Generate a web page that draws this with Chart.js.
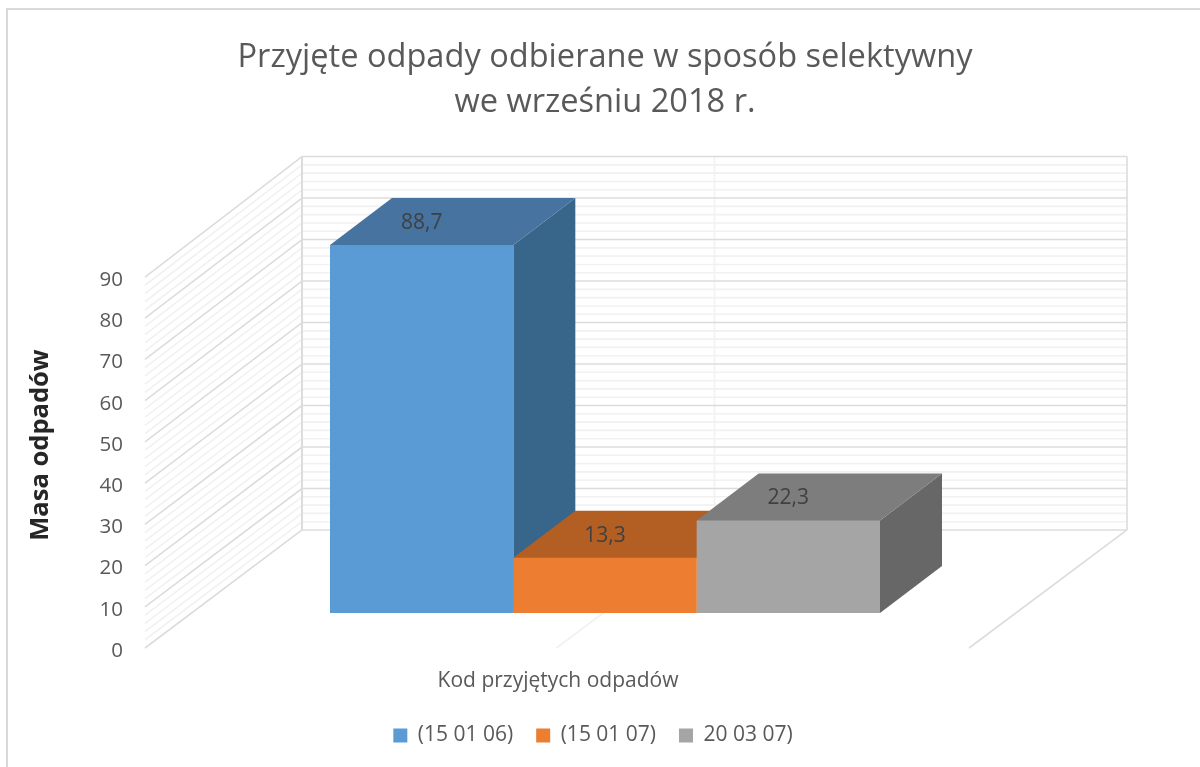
<!DOCTYPE html>
<html>
<head>
<meta charset="utf-8">
<title>Przyjęte odpady</title>
<script src="https://cdn.jsdelivr.net/npm/chart.js@4"></script>
<style>
  html, body { margin: 0; background: #fff; }
  canvas { display: block; }
</style>
</head>
<body>
<canvas id="chart" width="1200" height="767"></canvas>
<script>
const titleLines = ['Przyjęte odpady odbierane w sposób selektywny', 'we wrześniu 2018 r.'];
const categories = ['Kod przyjętych odpadów'];
const seriesNames = ['(15 01 06)', '(15 01 07)', '20 03 07)'];
const seriesValues = [88.7, 13.3, 22.3];
const yTickLabels = [0, 10, 20, 30, 40, 50, 60, 70, 80, 90];
const yMinorTicks = [2, 4, 6, 8, 12, 14, 16, 18, 22, 24, 26, 28, 32, 34, 36, 38, 42, 44, 46, 48,
  52, 54, 56, 58, 62, 64, 66, 68, 72, 74, 76, 78, 82, 84, 86, 88];

const frontColors = ['#5b9bd5', '#ed7d31', '#a5a5a5'];
const topColors = ['#4673a0', '#b35e23', '#7d7d7d'];
const sideColors = ['#38658a', '#b35e23', '#676767'];

const FONT = '"Open Sans", sans-serif';
const DEPTH_X = 62, DEPTH_Y = 47;       // bar depth
const WALL_X = 157;                     // floor depth
const FLOOR_W = 824;

function poly(ctx, pts, color) {
  ctx.fillStyle = color;
  ctx.beginPath();
  pts.forEach((p, i) => i ? ctx.lineTo(p[0], p[1]) : ctx.moveTo(p[0], p[1]));
  ctx.closePath();
  ctx.fill();
}

function line(ctx, x1, y1, x2, y2, color, w) {
  ctx.strokeStyle = color;
  ctx.lineWidth = w;
  ctx.beginPath();
  ctx.moveTo(x1, y1);
  ctx.lineTo(x2, y2);
  ctx.stroke();
}

// walls, floor and the 3d faces of the bars
const box3d = {
  id: 'box3d',
  beforeDatasetsDraw(chart) {
    const ctx = chart.ctx;
    const yAxis = chart.scales.y, yBars = chart.scales.yBars;
    const left = chart.chartArea.left;
    const backL = left + WALL_X, backR = backL + FLOOR_W + 1;
    const backY = v => yBars.getPixelForValue(v) - 83;

    ctx.save();
    // frame
    line(ctx, 7, 8, 7, 767, '#d9d9d9', 2);
    line(ctx, 6, 9, 1200, 9, '#d9d9d9', 2);

    const drawLevel = (v, color, w) => {
      line(ctx, left, yAxis.getPixelForValue(v), backL, backY(v), color, w);
      line(ctx, backL, backY(v), backR, backY(v), color, w);
    };
    yMinorTicks.forEach(v => drawLevel(v, '#f1f1f1', 1.6));
    line(ctx, backL + FLOOR_W / 2 + 0.5, backY(0), backL + FLOOR_W / 2 + 0.5, backY(90), '#f1f1f1', 1.6);
    line(ctx, left + FLOOR_W / 2 - 0.5, yAxis.getPixelForValue(0), backL + FLOOR_W / 2 + 0.5, backY(0), '#f1f1f1', 1.6);
    yTickLabels.forEach(v => drawLevel(v, '#dcdcdc', 1.6));
    line(ctx, backL, backY(0), backL, backY(90), '#dcdcdc', 2);
    line(ctx, backR, backY(0), backR, backY(90), '#dcdcdc', 1.6);
    line(ctx, left + FLOOR_W, yAxis.getPixelForValue(0), backR, backY(0), '#dcdcdc', 1.6);

    chart.data.datasets.forEach((ds, i) => {
      const bar = chart.getDatasetMeta(i).data[0];
      const x1 = bar.x - bar.width / 2, x2 = bar.x + bar.width / 2;
      const yt = bar.y, yb = bar.base;
      poly(ctx, [[x2, yt], [x2 + DEPTH_X, yt - DEPTH_Y], [x2 + DEPTH_X, yb - DEPTH_Y], [x2, yb]], sideColors[i]);
      // 1px under the front face so no seam shows at the shared edge
      poly(ctx, [[x1, yt + 1], [x1, yt], [x1 + DEPTH_X, yt - DEPTH_Y], [x2 + DEPTH_X, yt - DEPTH_Y], [x2, yt], [x2, yt + 1]], topColors[i]);
    });
    ctx.restore();
  },
  afterDatasetsDraw(chart) {
    const ctx = chart.ctx;
    ctx.save();
    ctx.textAlign = 'center';
    ctx.textBaseline = 'middle';
    ctx.font = '21px ' + FONT;
    ctx.fillStyle = '#404040';
    chart.data.datasets.forEach((ds, i) => {
      const bar = chart.getDatasetMeta(i).data[0];
      ctx.fillText(String(ds.data[0]).replace('.', ','), bar.x, bar.y - 22);
    });
    // x axis title sits under the front edge of the floor, not under the bars
    ctx.fillStyle = '#595959';
    ctx.fillText(categories[0], chart.chartArea.left + FLOOR_W / 2 + 1, 681);
    ctx.restore();
  }
};

new Chart(document.getElementById('chart'), {
  type: 'bar',
  data: {
    labels: [''],
    datasets: seriesNames.map((name, i) => ({
      label: name,
      data: [seriesValues[i]],
      backgroundColor: frontColors[i],
      borderWidth: 0,
      yAxisID: 'yBars',
      categoryPercentage: 550 / 920,
      barPercentage: 1
    }))
  },
  options: {
    responsive: false,
    animation: false,
    layout: { padding: { left: 25, right: 39, top: 0, bottom: 11 } },
    plugins: {
      tooltip: { enabled: false },
      title: {
        display: true,
        fullSize: false,
        text: titleLines,
        color: '#595959',
        font: { family: FONT, size: 32.6, weight: 'normal', lineHeight: 1.38 },
        padding: { top: 35, bottom: 117 }
      },
      legend: {
        position: 'bottom',
        labels: {
          boxWidth: 14,
          boxHeight: 14,
          color: '#595959',
          padding: 23,
          font: { family: FONT, size: 21 }
        }
      }
    },
    scales: {
      x: {
        display: true,
        grid: { display: false },
        border: { display: false },
        ticks: { display: false },
        afterFit: s => { s.height = 54; }
      },
      y: {
        position: 'left',
        min: 0,
        max: 98.5,
        grid: { display: false, drawTicks: false },
        border: { display: false },
        afterBuildTicks: s => { s.ticks = yTickLabels.map(v => ({ value: v })); },
        afterFit: s => { s.width = 120; },
        ticks: {
          autoSkip: false,
          padding: 22,
          labelOffset: 3,
          color: '#595959',
          font: { family: FONT, size: 20.5 }
        },
        title: {
          display: true,
          text: 'Masa odpadów',
          color: '#262626',
          padding: 0,
          font: { family: FONT, size: 25.5, weight: 'bold' }
        }
      },
      // bars stand further into the box than the tick labels, so they get their own scale
      yBars: {
        position: 'right',
        min: -8.44,
        max: 89.42,
        grid: { display: false, drawTicks: false },
        border: { display: false },
        ticks: { display: false },
        afterFit: s => { s.width = 96; }
      }
    }
  },
  plugins: [box3d]
});
</script>
</body>
</html>
